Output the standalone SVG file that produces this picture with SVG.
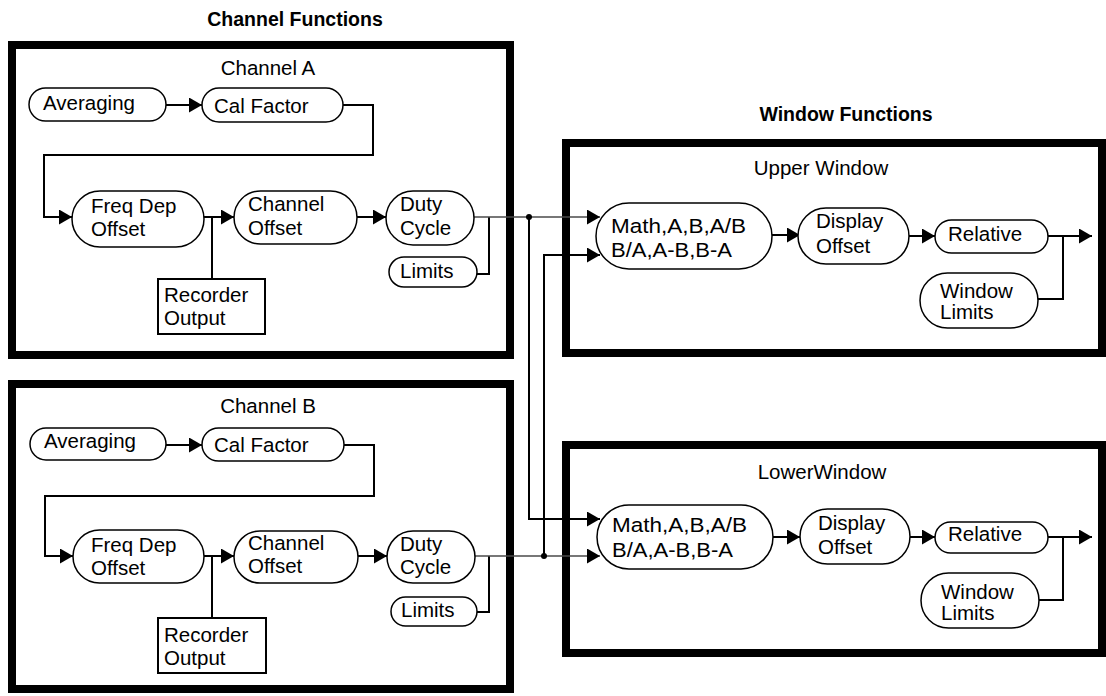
<svg xmlns="http://www.w3.org/2000/svg" width="1106" height="696" viewBox="0 0 1106 696">
<style>
text{font-family:"Liberation Sans",Arial,sans-serif;font-size:20.5px;fill:#000}
.hdr{font-weight:bold;font-size:19.5px;text-anchor:middle}
.ttl{text-anchor:middle}
.frame{fill:none;stroke:#000;stroke-width:8;stroke-linejoin:miter}
.node{fill:#fff;stroke:#000;stroke-width:1.5}
.box{fill:#fff;stroke:#000;stroke-width:2}
.c{fill:none;stroke:#000;stroke-width:2}
.g{fill:none;stroke:#4a4a4a;stroke-width:1.6}
.a{marker-end:url(#ah)}
</style>
<defs>
<marker id="ah" markerUnits="userSpaceOnUse" markerWidth="14" markerHeight="16" refX="13" refY="7.5" orient="auto">
<path d="M0,0 L13,7.5 L0,15 z" fill="#000"/>
</marker>
</defs>
<rect width="1106" height="696" fill="#fff"/>
<text class="hdr" x="295" y="26">Channel Functions</text>
<text class="hdr" x="846" y="121">Window Functions</text>

<g id="channelA">
<rect class="frame" x="12" y="45" width="498" height="310"/>
<text class="ttl" x="268" y="75">Channel A</text>
</g>
<g id="channelB">
<rect class="frame" x="12" y="384" width="498" height="305"/>
<text class="ttl" x="268" y="413">Channel B</text>
</g>
<g id="upperWindow">
<rect class="frame" x="566" y="143" width="536" height="210"/>
<text class="ttl" x="821" y="175">Upper Window</text>
</g>
<g id="lowerWindow">
<rect class="frame" x="566" y="445" width="536" height="208"/>
<text class="ttl" x="822" y="479">LowerWindow</text>
</g>

<g id="connectors">
<line class="c a" x1="166" y1="105" x2="202" y2="105"/>
<polyline class="c a" points="343,105 373,105 373,155 44,155 44,217 72,217"/>
<line class="c a" x1="204" y1="217" x2="234" y2="217"/>
<line class="c" x1="212" y1="217" x2="212" y2="279"/>
<line class="c a" x1="357" y1="217" x2="386" y2="217"/>
<polyline class="c" points="477,274 489,274 489,217"/>
<line class="g a" x1="474" y1="217" x2="600" y2="217"/>
<polyline class="c a" points="529,217 529,519 600,519"/>
<circle cx="529" cy="217" r="3" fill="#000"/>

<line class="c a" x1="166" y1="445" x2="202" y2="445"/>
<polyline class="c a" points="344,445 374,445 374,496 45,496 45,556 73,556"/>
<line class="c a" x1="204" y1="556" x2="234" y2="556"/>
<line class="c" x1="212" y1="556" x2="212" y2="618"/>
<line class="c a" x1="358" y1="556" x2="387" y2="556"/>
<polyline class="c" points="477,612 489,612 489,556"/>
<line class="g a" x1="475" y1="556" x2="600" y2="556"/>
<polyline class="c a" points="544,556 544,255 600,255"/>
<circle cx="544" cy="556" r="3" fill="#000"/>

<line class="c a" x1="772" y1="235" x2="800" y2="235"/>
<line class="c a" x1="909" y1="236" x2="935" y2="236"/>
<line class="c a" x1="1048" y1="236" x2="1092" y2="236"/>
<polyline class="c" points="1038,299 1063,299 1063,236"/>

<line class="c a" x1="773" y1="537" x2="800" y2="537"/>
<line class="c a" x1="910" y1="537" x2="935" y2="537"/>
<line class="c a" x1="1048" y1="537" x2="1092" y2="537"/>
<polyline class="c" points="1039,600 1063,600 1063,537"/>
</g>

<g id="a-averaging"><rect class="node" x="29" y="88" width="137" height="33" rx="16.5"/><text x="43" y="110">Averaging</text></g>
<g id="a-calfactor"><rect class="node" x="202" y="88" width="141" height="34" rx="17"/><text x="214" y="113">Cal Factor</text></g>
<g id="a-freqdep"><rect class="node" x="72" y="191" width="132" height="56" rx="28"/><text x="91" y="213">Freq Dep</text><text x="91" y="236">Offset</text></g>
<g id="a-recorder"><rect class="box" x="158" y="279" width="107" height="55"/><text x="164" y="302">Recorder</text><text x="164" y="325">Output</text></g>
<g id="a-choffset"><rect class="node" x="234" y="191" width="123" height="53" rx="26.5"/><text x="248" y="211">Channel</text><text x="248" y="235">Offset</text></g>
<g id="a-duty"><rect class="node" x="386" y="191" width="88" height="54" rx="27"/><text x="400" y="211">Duty</text><text x="400" y="235">Cycle</text></g>
<g id="a-limits"><rect class="node" x="389" y="257" width="88" height="30" rx="15"/><text x="400" y="278">Limits</text></g>

<g id="b-averaging"><rect class="node" x="30" y="428" width="136" height="32" rx="16"/><text x="44" y="448">Averaging</text></g>
<g id="b-calfactor"><rect class="node" x="202" y="428" width="142" height="33" rx="16.5"/><text x="214" y="452">Cal Factor</text></g>
<g id="b-freqdep"><rect class="node" x="73" y="530" width="131" height="53" rx="26.5"/><text x="91" y="552">Freq Dep</text><text x="91" y="575">Offset</text></g>
<g id="b-recorder"><rect class="box" x="158" y="618" width="108" height="55"/><text x="164" y="642">Recorder</text><text x="164" y="665">Output</text></g>
<g id="b-choffset"><rect class="node" x="234" y="531" width="124" height="52" rx="26"/><text x="248" y="550">Channel</text><text x="248" y="573">Offset</text></g>
<g id="b-duty"><rect class="node" x="387" y="531" width="88" height="52" rx="26"/><text x="400" y="551">Duty</text><text x="400" y="574">Cycle</text></g>
<g id="b-limits"><rect class="node" x="391" y="597" width="86" height="29" rx="14.5"/><text x="401" y="617">Limits</text></g>

<g id="u-math"><rect class="node" x="596" y="203" width="176" height="66" rx="33"/><text x="611" y="233" textLength="135" lengthAdjust="spacingAndGlyphs">Math,A,B,A/B</text><text x="611" y="257" textLength="121" lengthAdjust="spacingAndGlyphs">B/A,A-B,B-A</text></g>
<g id="u-display"><rect class="node" x="798" y="208" width="111" height="56" rx="28"/><text x="816" y="228">Display</text><text x="816" y="253">Offset</text></g>
<g id="u-relative"><rect class="node" x="935" y="220" width="113" height="33" rx="16.5"/><text x="948" y="241">Relative</text></g>
<g id="u-winlimits"><rect class="node" x="920" y="273" width="118" height="55" rx="27.5"/><text x="940" y="298">Window</text><text x="940" y="319">Limits</text></g>

<g id="l-math"><rect class="node" x="597" y="505" width="176" height="64" rx="32"/><text x="612" y="532" textLength="135" lengthAdjust="spacingAndGlyphs">Math,A,B,A/B</text><text x="612" y="557" textLength="121" lengthAdjust="spacingAndGlyphs">B/A,A-B,B-A</text></g>
<g id="l-display"><rect class="node" x="800" y="509" width="110" height="55" rx="27.5"/><text x="818" y="530">Display</text><text x="818" y="554">Offset</text></g>
<g id="l-relative"><rect class="node" x="935" y="522" width="113" height="31" rx="15.5"/><text x="948" y="541">Relative</text></g>
<g id="l-winlimits"><rect class="node" x="921" y="573" width="118" height="55" rx="27.5"/><text x="941" y="599">Window</text><text x="941" y="620">Limits</text></g>
</svg>
